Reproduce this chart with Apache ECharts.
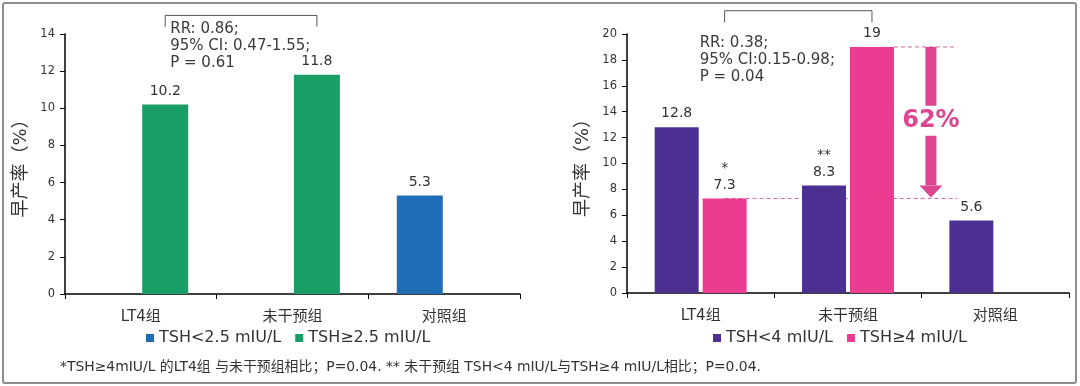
<!DOCTYPE html>
<html><head><meta charset="utf-8">
<script src="https://cdn.jsdelivr.net/npm/echarts@6/dist/echarts.min.js"></script>
<style>html,body{margin:0;padding:0;background:#fff}#c{width:1080px;height:386px}</style>
</head><body><div id="c"></div>
<script>
const categories = ['LT4组', '未干预组', '对照组'];
const leftSeriesNames = ['TSH<2.5 mIU/L', 'TSH≥2.5 mIU/L'];
const leftLow = [null, null, 5.3];
const leftHigh = [10.2, 11.8, null];
const rightSeriesNames = ['TSH<4 mIU/L', 'TSH≥4 mIU/L'];
const rightLow = [12.8, 8.3, 5.6];
const rightHigh = [7.3, 19, null];
const rightLowMarks = ['', '**', ''];
const rightHighMarks = ['*', '', ''];
const leftAxisMax = 14;
const rightAxisMax = 20;
const axisStep = 2;
const yAxisName = '早产率（%）';
const leftNote = ['RR: 0.86;', '95% CI: 0.47-1.55;', 'P = 0.61'];
const rightNote = ['RR: 0.38;', '95% CI:0.15-0.98;', 'P = 0.04'];
const reductionLabel = '62%';
const footnote = '*TSH≥4mIU/L 的LT4组 与未干预组相比；P=0.04. ** 未干预组 TSH<4 mIU/L与TSH≥4 mIU/L相比；P=0.04.';

const FONT = "'DejaVu Sans','Noto Sans CJK SC',sans-serif";
const C_BLUE = '#1f6fb7', C_GREEN = '#1a9e68', C_PURPLE = '#4b2f91', C_PINK = '#ea3d92', C_ARROW = '#dc4690';
const TXT = '#333';
const LBW = 46, LGAP = 0.06, RBW = 44, RGAP = 0.09;

const chart = echarts.init(document.getElementById('c'));

function yAxisCfg(g, max) {
  return {
    type: 'value', gridIndex: g, min: 0, max: max, interval: axisStep,
    axisLine: {show: true, lineStyle: {color: '#000', width: 1.5}},
    axisTick: {show: true, length: 5, lineStyle: {color: '#000'}},
    splitLine: {show: false},
    axisLabel: {fontSize: 11.5, color: TXT, margin: 10, fontFamily: FONT},
    name: yAxisName, nameLocation: 'middle', nameGap: 35, nameRotate: 90,
    nameTextStyle: {fontSize: 18, color: TXT, fontFamily: FONT}
  };
}
function xAxisCfg(g) {
  return {
    type: 'category', gridIndex: g, data: categories,
    axisLine: {show: true, lineStyle: {color: '#000', width: 1.5}},
    axisTick: {show: true, length: 5, lineStyle: {color: '#000'}},
    axisLabel: {fontSize: 15, color: TXT, margin: 16, fontFamily: FONT}
  };
}
function barLabel(marks) {
  return {
    show: true, position: 'top', distance: 5, color: TXT, fontSize: 14, fontFamily: FONT, lineHeight: 17,
    formatter: p => (marks && marks[p.dataIndex] ? marks[p.dataIndex] + '\n' : '') + p.value
  };
}
function legendCfg(names, left) {
  return {data: names, left: left, top: 330, padding: 0, itemWidth: 8, itemHeight: 8, itemGap: 14, icon: 'rect',
          textStyle: {fontSize: 16, color: TXT, fontFamily: FONT}};
}

const option = {
  animation: false,
  backgroundColor: '#fff',
  grid: [
    {left: 65, right: 560, top: 34, bottom: 92},
    {left: 627, right: 11, top: 34, bottom: 93}
  ],
  xAxis: [xAxisCfg(0), xAxisCfg(1)],
  yAxis: [yAxisCfg(0, leftAxisMax), yAxisCfg(1, rightAxisMax)],
  legend: [legendCfg(leftSeriesNames, 146), legendCfg(rightSeriesNames, 713)],
  series: [
    {type: 'bar', name: leftSeriesNames[0], xAxisIndex: 0, yAxisIndex: 0, data: leftLow, barWidth: LBW, barGap: (LGAP*100)+'%', itemStyle: {color: C_BLUE}, label: barLabel(null)},
    {type: 'bar', name: leftSeriesNames[1], xAxisIndex: 0, yAxisIndex: 0, data: leftHigh, barWidth: LBW, barGap: (LGAP*100)+'%', itemStyle: {color: C_GREEN}, label: barLabel(null)},
    {type: 'bar', name: rightSeriesNames[0], xAxisIndex: 1, yAxisIndex: 1, data: rightLow, barWidth: RBW, barGap: (RGAP*100)+'%', itemStyle: {color: C_PURPLE}, label: barLabel(rightLowMarks)},
    {type: 'bar', name: rightSeriesNames[1], xAxisIndex: 1, yAxisIndex: 1, data: rightHigh, barWidth: RBW, barGap: (RGAP*100)+'%', itemStyle: {color: C_PINK}, label: barLabel(rightHighMarks)}
  ]
};
chart.setOption(option);

const px = (g, cat, v) => chart.convertToPixel({gridIndex: g}, [cat, v]);
const g = [];
// outer frame
g.push({type: 'rect', shape: {x: 3, y: 3, width: 1073, height: 380, r: 2}, style: {fill: 'none', stroke: '#8c8c8c', lineWidth: 2}, z: 0});

// left bracket (between the two TSH>=2.5 bars)
const lOff = LBW * LGAP / 2 + LBW / 2;
const la = px(0, 0, 15.0), lb = px(0, 1, 15.0), lbot = px(0, 0, 14.4);
const lx1 = la[0] + lOff, lx2 = lb[0] + lOff;
g.push({type: 'polyline', shape: {points: [[lx1, lbot[1]], [lx1, la[1]], [lx2, la[1]], [lx2, lbot[1]]]}, style: {stroke: '#555', lineWidth: 1, fill: null}});
g.push({type: 'text', x: lx1 + 5, y: 21, style: {text: leftNote.join('\n'), font: '15px ' + FONT, fill: '#3a3a3a', lineHeight: 17, verticalAlign: 'top'}});

// right bracket (between the two TSH>=4 bars)
const rOff = RBW * RGAP / 2 + RBW / 2;
const ra = px(1, 0, 21.8), rb = px(1, 1, 21.8), rbot = px(1, 0, 20.9);
const rx1 = ra[0] + rOff, rx2 = rb[0] + rOff;
g.push({type: 'polyline', shape: {points: [[rx1, rbot[1]], [rx1, ra[1]], [rx2, ra[1]], [rx2, rbot[1]]]}, style: {stroke: '#555', lineWidth: 1, fill: null}});
g.push({type: 'text', x: rx1 - 25, y: 35, style: {text: rightNote.join('\n'), font: '15px ' + FONT, fill: '#3a3a3a', lineHeight: 16.8, verticalAlign: 'top'}});

// dashed reference lines and reduction arrow
const c0 = px(1, 0, rightHigh[0]), c1 = px(1, 1, rightHigh[1]), c2 = px(1, 2, 0);
const span = c2[0] - c1[0];
const dashEnd = c1[0] + span * 0.742;
const yTop = c1[1], yLow = c0[1];
g.push({type: 'line', shape: {x1: c1[0] + rOff + RBW / 2, y1: yTop, x2: dashEnd, y2: yTop}, style: {stroke: '#d7679f', lineWidth: 1, lineDash: [4, 3]}});
g.push({type: 'line', shape: {x1: c0[0] + rOff, y1: yLow, x2: dashEnd, y2: yLow}, style: {stroke: '#d7679f', lineWidth: 1, lineDash: [4, 3]}});
const ax = c1[0] + span * 0.563;
const yText = px(1, 1, 13.3)[1];
const gapHalf = 15, shaftW = 11, headW = 23, headH = 13;
g.push({type: 'rect', shape: {x: ax - shaftW / 2, y: yTop, width: shaftW, height: (yText - gapHalf) - yTop}, style: {fill: C_ARROW}});
g.push({type: 'rect', shape: {x: ax - shaftW / 2, y: yText + gapHalf, width: shaftW, height: (yLow - headH) - (yText + gapHalf)}, style: {fill: C_ARROW}});
g.push({type: 'polygon', shape: {points: [[ax - headW / 2, yLow - headH], [ax + headW / 2, yLow - headH], [ax, yLow - 1]]}, style: {fill: C_ARROW}});
g.push({type: 'text', x: ax, y: yText, style: {text: reductionLabel, font: 'bold 24px ' + FONT, fill: C_ARROW, align: 'center', verticalAlign: 'middle'}});

// footnote
g.push({type: 'text', x: 60, y: 367, style: {text: footnote, font: '13.9px ' + FONT, fill: TXT, verticalAlign: 'middle'}});

chart.setOption({graphic: {elements: g}});
</script>
</body></html>
